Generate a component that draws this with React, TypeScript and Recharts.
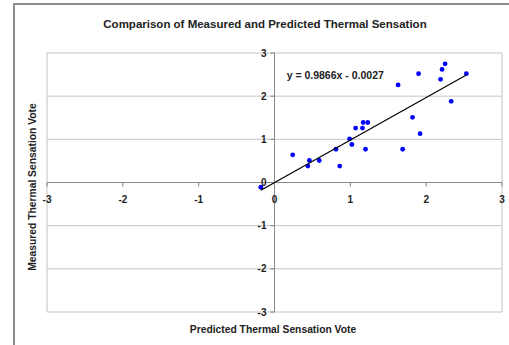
import React from 'react';
import { ScatterChart, Scatter, XAxis, YAxis, ReferenceLine, ReferenceDot } from 'recharts';

const FONT = '"Liberation Sans", Arial, Helvetica, sans-serif';

const title = 'Comparison of Measured and Predicted Thermal Sensation';
const xTitle = 'Predicted Thermal Sensation Vote';
const yTitle = 'Measured Thermal Sensation Vote';
const equation = 'y = 0.9866x - 0.0027';

const xTicks = [-3, -2, -1, 0, 1, 2, 3];
const yTicks = [-3, -2, -1, 0, 1, 2, 3];

const predicted = [-0.18, 0.24, 0.44, 0.46, 0.59, 0.81, 0.86, 0.99, 1.02, 1.07, 1.16, 1.17, 1.23, 1.2, 1.63, 1.69, 1.82, 1.9, 1.92, 2.19, 2.21, 2.25, 2.33, 2.53];
const measured = [-0.11, 0.64, 0.38, 0.51, 0.51, 0.77, 0.38, 1.01, 0.88, 1.26, 1.26, 1.39, 1.39, 0.77, 2.26, 0.77, 1.51, 2.52, 1.13, 2.39, 2.62, 2.75, 1.88, 2.52];

const trendX = [-0.18, 2.53];
const trendY = [-0.18, 2.49];

const eqPos = { x: 0.16, y: 2.51 };

const points = predicted.map((x, i) => ({ x, y: measured[i] }));
const trend = trendX.map((x, i) => ({ x, y: trendY[i] }));

const xTickLabel = (v: number) => (props: any) => {
  const vb = props.viewBox || {};
  const cx = vb.x + (vb.width || 0) / 2;
  const cy = vb.y + (vb.height || 0) / 2;
  return (
    <g>
      <line x1={cx} x2={cx} y1={cy} y2={cy + 4} stroke="#808080" />
      <text x={cx} y={cy + 20} textAnchor="middle" fontFamily={FONT} fontWeight="bold" fontSize={10} fill="#222">{String(v)}</text>
    </g>
  );
};

const yTickLabel = (v: number) => (props: any) => {
  const vb = props.viewBox || {};
  const cx = vb.x + (vb.width || 0) / 2;
  const cy = vb.y + (vb.height || 0) / 2;
  return (
    <g>
      <line x1={cx - 4} x2={cx} y1={cy} y2={cy} stroke="#808080" />
      <text x={cx - 8} y={cy + 3.5} textAnchor="end" fontFamily={FONT} fontWeight="bold" fontSize={10} fill="#222">{String(v)}</text>
    </g>
  );
};

const eqLabel = (props: any) => {
  const vb = props.viewBox || {};
  const cx = vb.x + (vb.width || 0) / 2;
  const cy = vb.y + (vb.height || 0) / 2;
  return (
    <text x={cx} y={cy + 4.5} textAnchor="start" fontFamily={FONT} fontWeight="bold" fontSize={10.5} fill="#222">{equation}</text>
  );
};

const Dot = (props: any) => <circle cx={props.cx} cy={props.cy} r={2.4} fill="#0000ff" />;
const NoDot = () => <g />;

export default function App() {
  return (
    <div style={{ position: 'absolute', left: 0, top: 0, width: 509, height: 345, background: '#fff', overflow: 'hidden', fontFamily: FONT }}>
      <div style={{ position: 'absolute', left: 13, top: 3, width: 500, height: 350, borderLeft: '2px solid #8c8c8c', borderTop: '2px solid #8c8c8c' }} />
      <div style={{ position: 'absolute', left: 0, top: 0 }}>
        <ScatterChart width={509} height={345} margin={{ top: 53, right: 7, bottom: 33, left: 47 }}>
          <XAxis type="number" dataKey="x" domain={[-3, 3]} ticks={xTicks} hide />
          <YAxis type="number" dataKey="y" domain={[-3, 3]} ticks={yTicks} hide />
          {yTicks.map((v) => (
            <ReferenceLine key={'g' + v} y={v} stroke="#c4c4c4" strokeWidth={1} />
          ))}
          <ReferenceLine x={-3} stroke="#c4c4c4" />
          <ReferenceLine x={3} stroke="#c4c4c4" />
          <ReferenceLine y={0} stroke="#8a8a8a" />
          <ReferenceLine x={0} stroke="#8a8a8a" />
          {xTicks.map((v) => (
            <ReferenceDot key={'xt' + v} x={v} y={0} r={0} fill="none" stroke="none" label={xTickLabel(v)} />
          ))}
          {yTicks.map((v) => (
            <ReferenceDot key={'yt' + v} x={0} y={v} r={0} fill="none" stroke="none" label={yTickLabel(v)} />
          ))}
          <Scatter data={points} shape={Dot} isAnimationActive={false} />
          <Scatter data={trend} shape={NoDot} line={{ stroke: '#000', strokeWidth: 1.2 }} isAnimationActive={false} />
          <ReferenceDot x={eqPos.x} y={eqPos.y} r={0} fill="none" stroke="none" label={eqLabel} />
        </ScatterChart>
      </div>
      <div style={{ position: 'absolute', left: 0, width: 530, top: 17, textAlign: 'center', fontSize: 11.5, fontWeight: 'bold', color: '#222', whiteSpace: 'nowrap', lineHeight: '14px' }}>{title}</div>
      <div style={{ position: 'absolute', left: 0, width: 546, top: 323, textAlign: 'center', fontSize: 10.3, fontWeight: 'bold', color: '#222', whiteSpace: 'nowrap', lineHeight: '14px' }}>{xTitle}</div>
      <div style={{ position: 'absolute', left: 33 - 100, top: 187 - 7, width: 200, height: 14, textAlign: 'center', fontSize: 10.3, fontWeight: 'bold', color: '#222', whiteSpace: 'nowrap', lineHeight: '14px', transform: 'rotate(-90deg)' }}>{yTitle}</div>
    </div>
  );
}
